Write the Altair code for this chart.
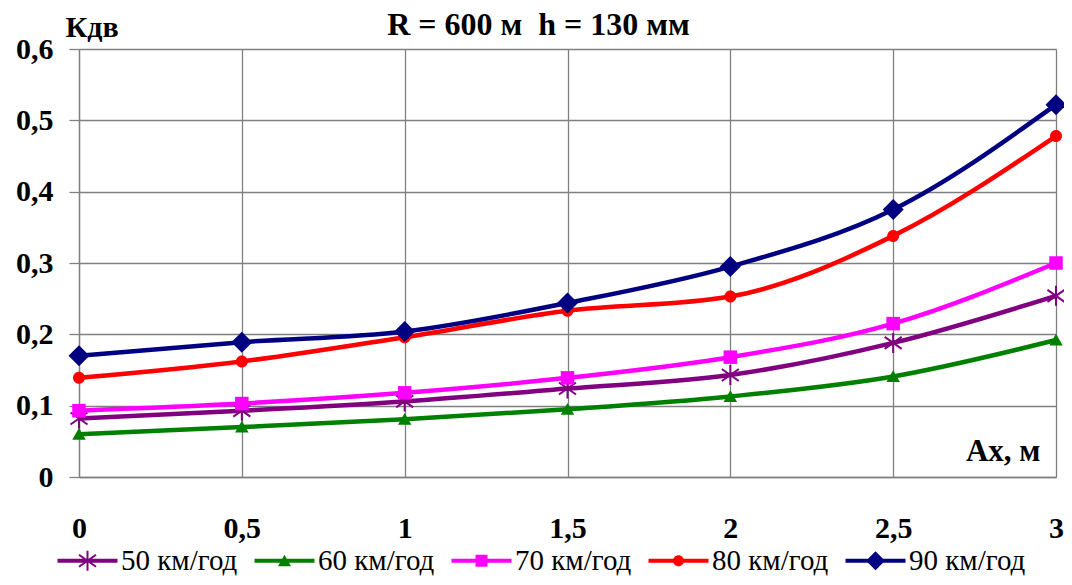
import altair as alt
import pandas as pd

x_vals = [0, 0.5, 1, 1.5, 2, 2.5, 3]
series_names = ["50 км/год", "60 км/год", "70 км/год", "80 км/год", "90 км/год"]
v50 = [0.082, 0.093, 0.106, 0.124, 0.143, 0.188, 0.254]
v60 = [0.060, 0.070, 0.081, 0.095, 0.113, 0.141, 0.192]
v70 = [0.093, 0.103, 0.118, 0.139, 0.168, 0.215, 0.300]
v80 = [0.139, 0.162, 0.196, 0.233, 0.253, 0.338, 0.478]
v90 = [0.170, 0.189, 0.204, 0.244, 0.295, 0.375, 0.522]
colors = ["#800080", "#008000", "#FF00FF", "#FF0000", "#000080"]

title_text = "R = 600 м\u00a0 h = 130 мм"
y_title = "Кдв"
x_title = "Ах, м"

all_vals = [v50, v60, v70, v80, v90]
rows = []
for name, vals in zip(series_names, all_vals):
    for xv, yv in zip(x_vals, vals):
        rows.append({"x": xv, "v": yv, "s": name})
df = pd.DataFrame(rows)

FONT = "Liberation Serif"

# plot markers (unit = 5px at size 100)
plot_shapes = [
    "M0,-2L0,2M-1.7,-1.2L1.7,1.2M-1.7,1.2L1.7,-1.2",
    "M0,-1.25L1.35,1.1L-1.35,1.1Z",
    "M-1.35,-1.35L1.35,-1.35L1.35,1.35L-1.35,1.35Z",
    "M-1.2,0A1.2,1.2,0,1,1,1.2,0A1.2,1.2,0,1,1,-1.2,0Z",
    "M0,-2.1L2.1,0L0,2.1L-2.1,0Z",
]
# legend symbols: line + marker as filled outlines (unit = 10px at size 400)
seg = "M-3,-0.2L3,-0.2L3,0.2L-3,0.2Z"
star = ("M-0.1,-1L0.1,-1L0.1,1L-0.1,1Z"
        "M-0.792,-0.682L0.908,0.518L0.792,0.682L-0.908,-0.518Z"
        "M-0.908,0.518L0.792,-0.682L0.908,-0.518L-0.792,0.682Z")
legend_shapes = [
    seg + star,
    seg + "M0,-0.6L0.65,0.55L-0.65,0.55Z",
    seg + "M-0.6,-0.6L0.6,-0.6L0.6,0.6L-0.6,0.6Z",
    seg + "M-0.55,0A0.55,0.55,0,1,1,0.55,0A0.55,0.55,0,1,1,-0.55,0Z",
    seg + "M0,-0.95L0.95,0L0,0.95L-0.95,0Z",
]

label_expr = "replace(format(datum.value, '.1~f'), '.', ',')"

x_enc = alt.X(
    "x:Q",
    scale=alt.Scale(domain=[0, 3], nice=False, zero=False),
    axis=alt.Axis(
        values=x_vals,
        labelExpr=label_expr,
        title=x_title,
        titleX=961,
        titleY=-17,
        titleAlign="right",
        titleBaseline="alphabetic",
        titleAngle=0,
        titleFontSize=31,
        ticks=False,
        labelPadding=36,
        labelFlush=False,
        labelOverlap=False,
    ),
)
y_enc = alt.Y(
    "v:Q",
    scale=alt.Scale(domain=[0, 0.6], nice=False),
    axis=alt.Axis(
        values=[0, 0.1, 0.2, 0.3, 0.4, 0.5, 0.6],
        labelExpr=label_expr,
        title=y_title,
        titleX=-14,
        titleY=-13,
        titleAlign="left",
        titleBaseline="alphabetic",
        titleAngle=0,
        tickSize=10,
        labelPadding=16,
        labelFlush=False,
        labelOverlap=False,
    ),
)

base = alt.Chart(df)
layers = []
for i, name in enumerate(series_names):
    sub = base.transform_filter(alt.datum.s == name)
    layers.append(
        sub.mark_line(color=colors[i], strokeWidth=4.5, interpolate="monotone").encode(x=x_enc, y=y_enc)
    )
    if i == 0:
        pt = sub.mark_point(shape=plot_shapes[i], size=100, filled=False, stroke=colors[i],
                            strokeWidth=2, opacity=1)
    else:
        pt = sub.mark_point(shape=plot_shapes[i], size=100, filled=True, fill=colors[i],
                            opacity=1, strokeWidth=0)
    layers.append(pt.encode(x=x_enc, y=y_enc))

# legend-only layer: no rows survive the filter, the legend comes from the scale domain
legend_layer = base.transform_filter(alt.datum.x < -1).mark_point(filled=True, size=400, opacity=1).encode(
    x=x_enc,
    y=y_enc,
    color=alt.Color(
        "s:N",
        scale=alt.Scale(domain=series_names, range=colors),
        legend=alt.Legend(
            title=None,
            orient="none",
            legendX=-6,
            legendY=497,
            direction="horizontal",
            columns=5,
            columnPadding=16,
            symbolSize=400,
            symbolStrokeWidth=0,
            symbolOpacity=1,
            labelOffset=19,
            labelFont=FONT,
            labelFontSize=29,
            labelColor="black",
            labelLimit=300,
        ),
    ),
    shape=alt.Shape("s:N", scale=alt.Scale(domain=series_names, range=legend_shapes)),
)
layers.append(legend_layer)

chart = alt.layer(*layers).properties(
    width=977,
    height=428,
    padding={"left": 71, "top": 41, "right": 8, "bottom": 100},
    autosize=alt.AutoSizeParams(type="none"),
    title=alt.TitleParams(
        title_text,
        font=FONT,
        fontSize=32,
        fontWeight="bold",
        color="black",
        anchor="middle",
        baseline="alphabetic",
        dx=-29,
        offset=-55,
    ),
).configure_axis(
    labelFont=FONT,
    labelFontSize=30,
    labelFontWeight="bold",
    labelColor="black",
    titleFont=FONT,
    titleFontSize=30,
    titleFontWeight="bold",
    titleColor="black",
    gridColor="#808080",
    gridWidth=1.3,
    domainColor="#808080",
    domainWidth=1.3,
    tickColor="#808080",
    tickWidth=1.3,
).configure_view(stroke=None)

chart.save("out.html", embed_options={"renderer": "svg", "actions": False})
